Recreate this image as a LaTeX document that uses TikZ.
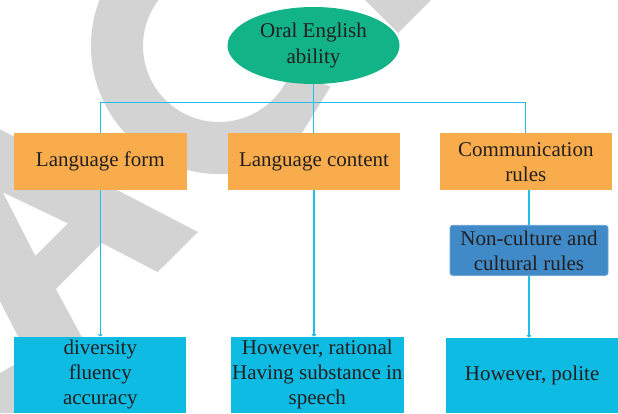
\documentclass[tikz,border=0pt]{standalone}
\usepackage{fontspec}
\setmainfont{Liberation Serif}
\usetikzlibrary{arrows.meta,shapes.geometric,calc}
\definecolor{wm}{RGB}{211,211,211}
\definecolor{ellc}{RGB}{18,179,135}
\definecolor{orc}{RGB}{249,172,76}
\definecolor{nbc}{RGB}{64,138,200}
\definecolor{nbb}{RGB}{110,165,215}
\definecolor{cyc}{RGB}{13,187,227}
\definecolor{lnc}{RGB}{35,190,232}
\definecolor{txc}{RGB}{35,31,32}
\begin{document}
\begin{tikzpicture}[x=1pt,y=1pt,
  txt/.style={text=txc,font=\fontsize{21}{25}\selectfont,align=center,inner sep=0pt},
  obox/.style={txt,fill=orc,minimum height=56.7pt},
  bbox/.style={txt,fill=cyc,minimum height=76.3pt},
  conn/.style={draw=lnc,line width=1.1pt},
  arr/.style={conn,-{To[length=2.5pt,width=4.5pt]}}]
\useasboundingbox (0,0) rectangle (618,-413);
% watermark
\begin{scope}
\clip (0,0) rectangle (618,-413);
\begin{scope}
\clip (-10,10) -- (390,10) -- (260.7,-200) -- (-10,-200) -- cycle;
\fill[wm] ($(219,-46)+(65:128)$) arc[start angle=65,end angle=340,radius=128]
  -- ($(219,-46)+(340:76)$) arc[start angle=340,end angle=65,radius=76] -- cycle;
\end{scope}
\fill[wm,even odd rule] (198,-232) -- (-72,-92) -- (-96,-116) -- (43.8,-386) -- (85.5,-344)
  -- (55.9,-289) -- (101.8,-243) -- (157.7,-272) -- cycle
  (67.9,-223.4) -- (35.4,-256) -- (2.8,-192.3) -- cycle;
\fill[wm] (365,5) -- (365,0) -- (398,-33) -- (431,0) -- (431,5) -- cycle;
\fill[wm] (0,-373) -- (14,-365) -- (14,-413) -- (0,-413) -- cycle;
\end{scope}
% nodes
\node[ellipse,fill=ellc,txt,minimum width=172pt,minimum height=77pt,
  font=\fontsize{21}{26.5}\selectfont] (ell) at (313.5,-45.5) {Oral English\\ability};
\node[obox,minimum width=172.7pt] (lf) at (100.35,-161.7) {Language form};
\node[obox,minimum width=172pt] (lc) at (314,-161.7) {Language content};
\node[obox,minimum width=171.7pt] (cr) at (525.85,-161.7) {Communication\\rules};
\node[txt,fill=nbc,draw=nbb,line width=0.8pt,rounded corners=2.5pt,
  minimum width=158pt,minimum height=50pt] (nc) at (529,-250.35) {Non-culture and\\cultural rules};
\node[bbox,minimum width=172.2pt] (div) at (100.3,-374.85) {diversity\\fluency\\accuracy};
\node[bbox,minimum width=172.6pt] (rat) at (317.3,-374.85) {However, rational\\Having substance in\\speech};
\node[bbox,minimum width=171.8pt,minimum height=75.3pt] (pol) at (532.1,-375.35) {However, polite};
% connectors
\coordinate (bus) at (313.5,-102.5);
\draw[conn] (lf.north) -- (lf.north |- bus) -- (cr.north |- bus) -- (cr.north);
\draw[conn] (ell.south) -- (ell.south |- lc.north);
\draw[arr] (lf.south) -- (lf.south |- div.north);
\draw[arr] (lc.south) -- (lc.south |- rat.north);
\draw[conn] (nc.north |- cr.south) -- (nc.north);
\draw[arr] (nc.south) -- (nc.south |- pol.north);
\end{tikzpicture}
\end{document}
